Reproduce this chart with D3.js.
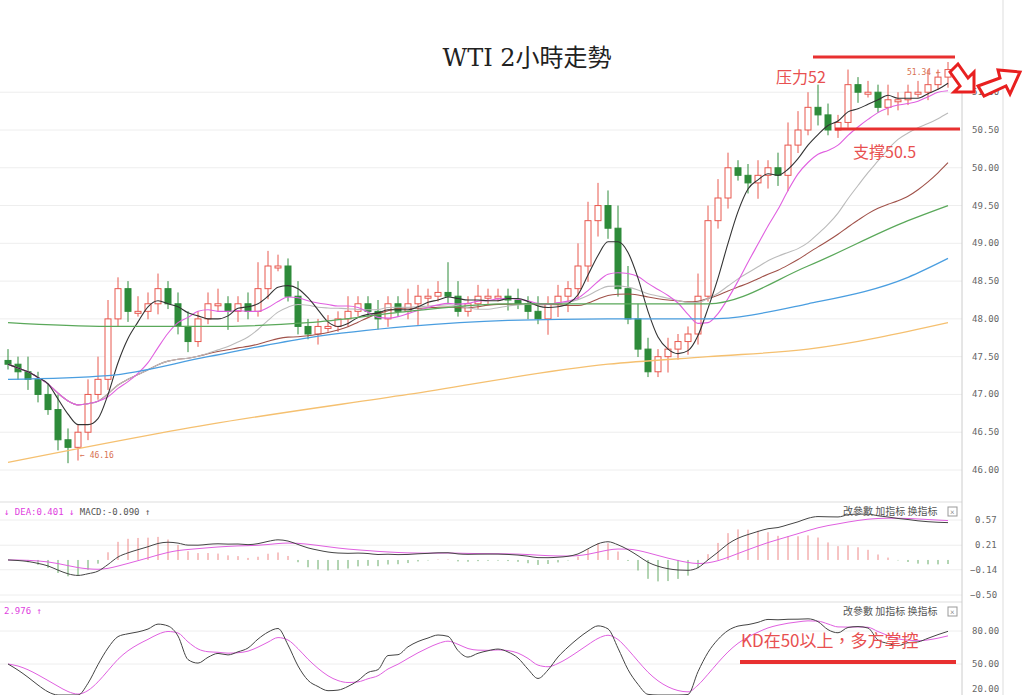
<!DOCTYPE html><html><head><meta charset="utf-8">
<script src="https://cdn.jsdelivr.net/npm/d3@7"></script>
<style>body{margin:0;background:#fff}svg{display:block}</style></head><body>
<svg id="c" width="1024" height="695"></svg>
<script>
const closes=[47.4,47.3,47.2,47.0,46.8,46.4,46.3,46.5,47.0,47.2,48.0,48.4,48.1,48.1,48.2,48.4,48.2,47.9,47.7,48.0,48.2,48.2,48.1,48.2,48.1,48.4,48.7,48.7,48.3,47.9,47.8,47.9,47.9,48.0,48.1,48.2,48.1,48.0,48.2,48.1,48.2,48.3,48.3,48.35,48.3,48.1,48.2,48.3,48.3,48.3,48.25,48.2,48.1,48.0,48.2,48.3,48.4,48.7,49.3,49.5,49.2,48.4,48.0,47.6,47.3,47.5,47.6,47.7,47.8,48.3,49.3,49.6,50.0,49.9,49.8,49.9,50.0,49.9,50.3,50.5,50.8,50.7,50.5,50.6,51.1,51.0,51.0,50.8,50.9,50.9,51.0,51.0,51.1,51.2,51.3];
const wicks=[0.15,0.1,0.2,0.1,0.15,0.2,0.15,0.1,0.2,0.3,0.25,0.15,0.1,0.2,0.15,0.2,0.1,0.15,0.2,0.1,0.15,0.2,0.1,0.1,0.15,0.35,0.2,0.15,0.1,0.2,0.1,0.1,0.15,0.1,0.2,0.1,0.1,0.15,0.1,0.1,0.2,0.15,0.1,0.15,0.4,0.2,0.1,0.15,0.1,0.1,0.1,0.15,0.1,0.2,0.1,0.15,0.1,0.3,0.25,0.3,0.2,0.3,0.3,0.2,0.15,0.1,0.15,0.1,0.1,0.3,0.2,0.25,0.2,0.1,0.15,0.2,0.1,0.2,0.3,0.25,0.2,0.3,0.15,0.1,0.2,0.1,0.15,0.1,0.2,0.1,0.1,0.15,0.2,0.1,0.1];
const greenIdx=[0,10,20,30,40,50,60,70,80,90,94], greenVal=[47.95,47.9,47.9,47.95,48.1,48.2,48.2,48.2,48.7,49.3,49.5];
const blueIdx=[0,10,20,30,40,50,60,70,80,90,94], blueVal=[47.2,47.25,47.5,47.75,47.9,47.98,48.0,48.0,48.2,48.55,48.8];
const yelIdx=[0,20,40,60,70,80,94], yelVal=[46.1,46.6,47.0,47.4,47.5,47.6,47.95];
const priceTicks=[46.0,46.5,47.0,47.5,48.0,48.5,49.0,49.5,50.0,50.5];
const macdTicks=[0.57,0.21,-0.14,-0.50], kdTicks=[80,50,20];

const svg=d3.select("#c");
const x=d3.scaleLinear().domain([0,94]).range([8,948]);
const y=d3.scaleLinear().domain([46,50.5]).range([470,130]);
const ym=d3.scaleLinear().domain([-0.5,0.57]).range([595,520]);
const yk=d3.scaleLinear().domain([20,80]).range([697,631]);
const RED="#e8584f",GRN="#2e8b3a";
const g=svg.append("g");
priceTicks.concat([51.0]).forEach(v=>g.append("line").attr("x1",0).attr("x2",962).attr("y1",y(v)).attr("y2",y(v)).attr("stroke","#eee"));
macdTicks.forEach(v=>g.append("line").attr("x1",0).attr("x2",962).attr("y1",ym(v)).attr("y2",ym(v)).attr("stroke","#eee"));
kdTicks.forEach(v=>g.append("line").attr("x1",0).attr("x2",962).attr("y1",yk(v)).attr("y2",yk(v)).attr("stroke","#eee"));
[502,602].forEach(v=>g.append("line").attr("x1",0).attr("x2",962).attr("y1",v).attr("y2",v).attr("stroke","#ddd"));
g.append("line").attr("x1",962).attr("x2",962).attr("y1",80).attr("y2",695).attr("stroke","#ccc");
g.append("line").attr("x1",1003).attr("x2",1003).attr("y1",0).attr("y2",695).attr("stroke","#ddd");
const ax=svg.append("g").attr("font-family","DejaVu Sans Mono").attr("font-size",9).attr("fill","#666");
priceTicks.forEach(v=>ax.append("text").attr("x",972).attr("y",y(v)+3).text(v.toFixed(2)));
ax.append("text").attr("x",972).attr("y",y(51)+3).text("51.00");
macdTicks.forEach(v=>ax.append("text").attr("x",v<0?970:975).attr("y",ym(v)+3).text(v.toFixed(2).replace("-","−")));
kdTicks.forEach(v=>ax.append("text").attr("x",972).attr("y",Math.min(692,yk(v)+3)).text(v.toFixed(2)));
const opens=closes.map((c,i)=>i?closes[i-1]:c+0.05);
const cg=svg.append("g");
closes.forEach((c,i)=>{const o=opens[i],up=c>=o,col=up?RED:GRN;
 const hi=Math.max(o,c)+wicks[i],lo=Math.min(o,c)-wicks[(i+3)%wicks.length]*0.7;
 cg.append("line").attr("x1",x(i)).attr("x2",x(i)).attr("y1",y(hi)).attr("y2",y(lo)).attr("stroke",col);
 const t=Math.min(y(o),y(c)),h=Math.max(2,Math.abs(y(o)-y(c)));
 cg.append("rect").attr("x",x(i)-3).attr("y",t).attr("width",6).attr("height",h).attr("fill",up?"#fff":col).attr("stroke",col);});
function ma(n){return closes.map((c,i)=>d3.mean(closes.slice(Math.max(0,i-n+1),i+1)));}
const line=d3.line().x((d,i)=>x(i)).y(d=>y(d)).curve(d3.curveMonotoneX);
[[ma(30),"#a0524a"],[ma(20),"#bbb"],[ma(10),"#e060e0"],[ma(5),"#333"]].forEach(([d,c])=>svg.append("path").attr("d",line(d)).attr("fill","none").attr("stroke",c).attr("stroke-width",1.1));
const sl=d3.line().x(d=>x(d[0])).y(d=>y(d[1])).curve(d3.curveMonotoneX);
[[greenIdx,greenVal,"#5aa85a"],[blueIdx,blueVal,"#4a9ee0"],[yelIdx,yelVal,"#f5c070"]].forEach(([a,b,c])=>svg.append("path").attr("d",sl(a.map((v,i)=>[v,b[i]]))).attr("fill","none").attr("stroke",c).attr("stroke-width",1.3));
function ema(arr,n){const k=2/(n+1);let e=arr[0];return arr.map(v=>e=v*k+e*(1-k));}
const e26=ema(closes,26);
const dif=ema(closes,12).map((v,i)=>v-e26[i]);
const dea=ema(dif,9);
const mg=svg.append("g");
dif.forEach((d,i)=>{const h=Math.max(-0.45,Math.min(0.6,(d-dea[i])*2));mg.append("line").attr("x1",x(i)).attr("x2",x(i)).attr("y1",ym(0)).attr("y2",ym(h)).attr("stroke",h>=0?"#e88":"#6a6");});
const ml=d3.line().x((d,i)=>x(i)).y(d=>ym(d)).curve(d3.curveMonotoneX);
mg.append("path").attr("d",ml(dea)).attr("fill","none").attr("stroke","#e060e0");
mg.append("path").attr("d",ml(dif)).attr("fill","none").attr("stroke","#444");
const K=[],D=[];let kp=50,dp=50;
closes.forEach((c,i)=>{const w=closes.slice(Math.max(0,i-8),i+1);const hh=d3.max(w)+0.1,ll=d3.min(w)-0.1;const rsv=(c-ll)/(hh-ll)*100;kp=(2*kp+rsv)/3;dp=(2*dp+kp)/3;K.push(kp);D.push(dp);});
const kl=d3.line().x((d,i)=>x(i)).y(d=>Math.min(695,yk(d))).curve(d3.curveMonotoneX);
svg.append("path").attr("d",kl(D)).attr("fill","none").attr("stroke","#e060e0");
svg.append("path").attr("d",kl(K)).attr("fill","none").attr("stroke","#444");
const hf="DejaVu Sans Mono";
svg.append("text").attr("x",4).attr("y",515).attr("font-family",hf).attr("font-size",9).attr("fill","#e040e0").text("↓ DEA:0.401 ↓ ").append("tspan").attr("fill","#555").text("MACD:-0.090 ↑");
svg.append("text").attr("x",4).attr("y",614).attr("font-family",hf).attr("font-size",9).attr("fill","#e040e0").text("2.976 ↑");
[512,612].forEach(yy=>{svg.append("text").attr("x",843).attr("y",yy+3).attr("font-family","Noto Sans CJK TC").attr("font-size",10).attr("fill","#555").text("改參數  加指标  换指标");
 svg.append("rect").attr("x",948).attr("y",yy-5).attr("width",9).attr("height",9).attr("fill","none").attr("stroke","#999");
 svg.append("text").attr("x",950).attr("y",yy+3).attr("font-size",8).attr("fill","#666").text("×");});
svg.append("text").attr("x",527).attr("y",66).attr("text-anchor","middle").attr("font-family","DejaVu Serif, Noto Sans CJK TC").attr("font-size",24).attr("fill","#222").text("WTI 2小時走勢");
svg.append("line").attr("x1",813).attr("x2",955).attr("y1",57).attr("y2",57).attr("stroke","#e83030").attr("stroke-width",3);
svg.append("line").attr("x1",835).attr("x2",960).attr("y1",129).attr("y2",129).attr("stroke","#e83030").attr("stroke-width",3);
const cj="Noto Sans CJK TC";
svg.append("text").attr("x",776).attr("y",83).attr("font-family",cj).attr("font-size",16).attr("fill","#e85050").text("压力52");
svg.append("text").attr("x",853).attr("y",158).attr("font-family",cj).attr("font-size",16).attr("fill","#e85050").text("支撑50.5");
svg.append("text").attr("x",907).attr("y",75).attr("font-family",hf).attr("font-size",8).attr("fill","#d87050").text("51.34 ←");
svg.append("text").attr("x",80).attr("y",458).attr("font-family",hf).attr("font-size",8).attr("fill","#d87050").text("← 46.16");
svg.append("text").attr("x",741).attr("y",647).attr("font-family",cj).attr("font-size",17).attr("fill","#e85050").text("KD在50以上，多方掌控");
svg.append("line").attr("x1",740).attr("x2",956).attr("y1",662).attr("y2",662).attr("stroke","#e83030").attr("stroke-width",4);
svg.append("path").attr("d","M950,72 L958,64 L968,78 L974,72 L974,92 L954,92 L960,86 Z").attr("fill","#fff").attr("stroke","#e82020").attr("stroke-width",3);
svg.append("path").attr("d","M978,86 L1000,78 L998,70 L1020,72 L1010,94 L1006,86 L984,96 Z").attr("fill","#fff").attr("stroke","#e82020").attr("stroke-width",3);
</script></body></html>
